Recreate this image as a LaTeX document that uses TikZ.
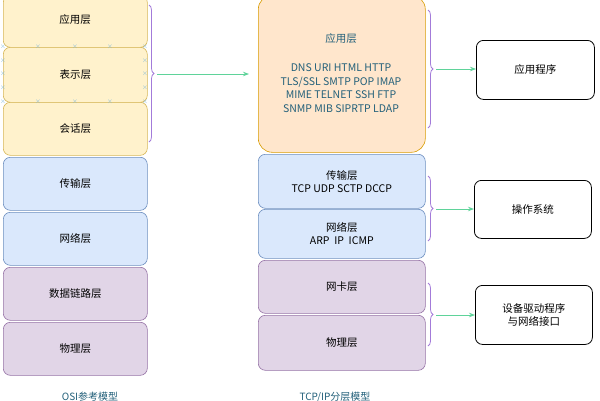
\documentclass[tikz,border=0pt]{standalone}
\usepackage{fontspec}
\setmainfont{Noto Sans CJK SC}
\usetikzlibrary{decorations.pathreplacing,arrows.meta}
\definecolor{yf}{HTML}{FFF2CC}\definecolor{ys}{HTML}{D6B656}
\definecolor{bf}{HTML}{DAE8FC}\definecolor{bs}{HTML}{6C8EBF}
\definecolor{pf}{HTML}{E1D5E7}\definecolor{ps}{HTML}{9673A6}
\definecolor{of}{HTML}{FFE6CC}\definecolor{os}{HTML}{D79B00}
\definecolor{br}{HTML}{A37BD9}\definecolor{ar}{HTML}{5FD39A}
\definecolor{tx}{HTML}{23607A}\definecolor{cx}{HTML}{7FB8DA}
\begin{document}
\begin{tikzpicture}[x=1pt,y=-1pt,
  lay/.style={draw,rounded corners=7pt,line width=0.6pt,font=\fontsize{10.5}{13}\selectfont,align=center,anchor=north west},
  yl/.style={lay,fill=yf,draw=ys},bl/.style={lay,fill=bf,draw=bs},
  pl/.style={lay,fill=pf,draw=ps},ol/.style={lay,fill=of,draw=os,rounded corners=14pt},
  rb/.style={draw,rounded corners=7pt,line width=0.8pt,font=\fontsize{10.5}{13}\selectfont,align=center,minimum width=118pt,minimum height=59pt,anchor=north west},
  brc/.style={draw=br,line width=0.8pt,decorate,decoration={brace,amplitude=5pt}},
  arr/.style={draw=ar,line width=0.8pt,-{Stealth[length=6pt]}},
  captxt/.style={text=tx,font=\fontsize{10}{12}\selectfont}]
\useasboundingbox (0,0) rectangle (600,400);
\node[yl,minimum width=144pt,minimum height=52pt] (a1) at (3,-5) {};
\node at (75,20) {\fontsize{10.5}{13}\selectfont 应用层};
\node[yl,minimum width=144pt,minimum height=55pt] (a2) at (3,47) {表示层};
\node[yl,minimum width=144pt,minimum height=53pt] (a3) at (3,102) {会话层};
\node[bl,minimum width=144pt,minimum height=53pt] (a4) at (3,157) {传输层};
\node[bl,minimum width=144pt,minimum height=53pt] (a5) at (3,212) {网络层};
\node[pl,minimum width=144pt,minimum height=53pt] (a6) at (3,267) {数据链路层};
\node[pl,minimum width=144pt,minimum height=53pt] (a7) at (3,322) {物理层};
\foreach \x in {3,38,75,110,145}{\foreach \y in {47,102}{\node[text=cx,inner sep=0,font=\scriptsize] at (\x,\y) {$\times$};}}
\foreach \y in {61,74,88}{\foreach \x in {3,145}{\node[text=cx,inner sep=0,font=\scriptsize] at (\x,\y) {$\times$};}}
\node[captxt] (osi) at (90,397) {OSI参考模型};
\node[ol,minimum width=167pt,minimum height=157pt] (t1) at (258,-5) {};
\node[text=tx,align=center,font=\fontsize{10.5}{13}\selectfont] at (341,39) {应用层};
\node[text=tx,align=center,font=\fontsize{10.5}{13.5}\selectfont] at (341,88) {DNS URI HTML HTTP\\TLS/SSL SMTP POP IMAP\\MIME TELNET SSH FTP\\SNMP MIB SIPRTP LDAP};
\node[bl,minimum width=167pt,minimum height=54pt] (t2) at (258,154) {传输层\\TCP UDP SCTP DCCP};
\node[bl,minimum width=167pt,minimum height=49pt] (t3) at (258,209) {网络层\\ARP\ \ IP\ \ ICMP};
\node[pl,minimum width=167pt,minimum height=53pt] (t4) at (258,260) {网卡层};
\node[pl,minimum width=167pt,minimum height=55pt] (t5) at (258,315) {物理层};
\node[captxt] (tcp) at (335,397) {TCP/IP分层模型};
\node[rb] (r1) at (476,40) {应用程序};
\node[rb,minimum width=117pt,minimum height=58pt] (r2) at (474,180) {操作系统};
\node[rb,minimum width=117pt] (r3) at (475,285) {设备驱动程序\\与网络接口};
\coordinate (b1t) at (149,5);\coordinate (b1b) at (149,142);
\draw[brc] (b1t) -- (b1b);
\coordinate (m1) at (157,74);\coordinate (e1) at (249,74);
\draw[arr] (m1) -- (e1);
\coordinate (b2t) at (428,10);\coordinate (b2b) at (428,128);
\draw[brc] (b2t) -- (b2b);
\coordinate (m2) at (436,69);\draw[arr] (m2) -- (r1.west|-m2);
\coordinate (b3t) at (428,176);\coordinate (b3b) at (428,241);
\draw[brc] (b3t) -- (b3b);
\coordinate (m3) at (436,209);\draw[arr] (m3) -- (r2.west|-m3);
\coordinate (b4t) at (428,283);\coordinate (b4b) at (428,346);
\draw[brc] (b4t) -- (b4b);
\coordinate (m4) at (436,315);\draw[arr] (m4) -- (r3.west|-m4);
\end{tikzpicture}
\end{document}
